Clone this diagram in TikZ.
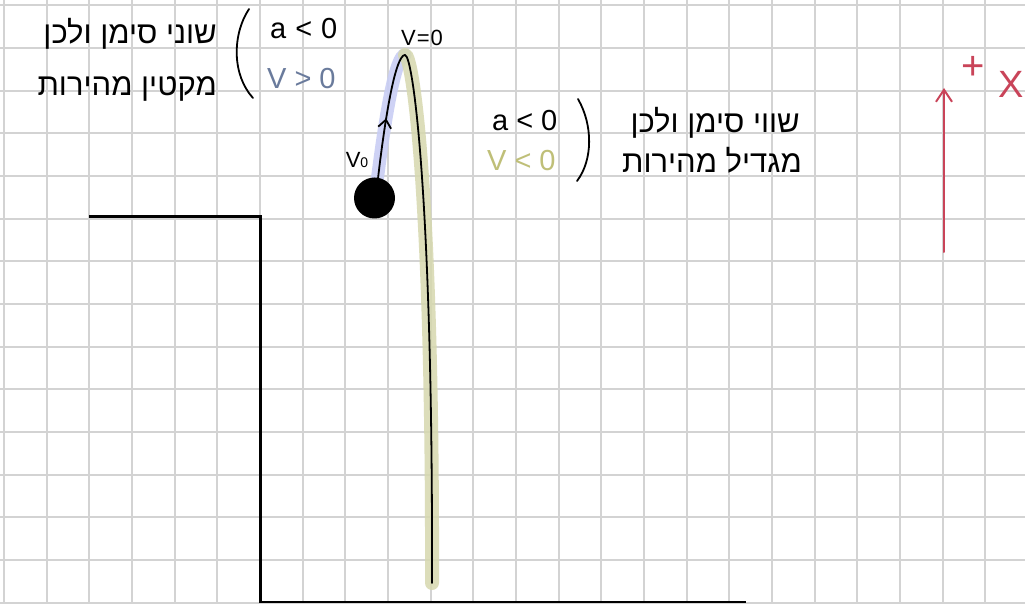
\documentclass[tikz,border=0pt]{standalone}
\usepackage{fontspec}
\setmainfont{Liberation Sans}
\newfontfamily\hebfont[Script=Hebrew]{Liberation Sans}
\TeXXeTstate=1
\usetikzlibrary{arrows.meta,decorations.markings}
\definecolor{gridc}{HTML}{D3D3D3}
\definecolor{redc}{HTML}{C94459}
\definecolor{slatec}{HTML}{6A7B9C}
\definecolor{olivec}{HTML}{BFBF78}
\definecolor{hlblue}{HTML}{C9CEF4}
\definecolor{hlolive}{HTML}{D6D8AE}
\tikzset{
  gridline/.style={draw=gridc, line width=2pt},
  stepline/.style={draw=black, line width=2.4pt},
  pathline/.style={draw=black, line width=1.8pt, line cap=round},
  hebtext/.style={font=\hebfont\fontsize{31}{33}\selectfont, inner sep=0pt},
  mathtext/.style={font=\fontsize{29}{31}\selectfont, inner sep=0pt},
  paren/.style={draw=black, line width=1.8pt, line cap=round},
  redline/.style={draw=redc, line width=2pt, line cap=round},
}
\begin{document}
\begin{tikzpicture}[x=1pt,y=-1pt]
\useasboundingbox (0,0) rectangle (1025,604);
\fill[white] (0,0) rectangle (1025,604);
% grid
\foreach \i in {0,...,23} \draw[gridline] ({4+42.67*\i},0) -- ({4+42.67*\i},604);
\foreach \j in {0,...,14} \draw[gridline] (0,{5.3+42.67*\j}) -- (1025,{5.3+42.67*\j});
% cliff and ground
\coordinate (c1) at (89,216.5);
\coordinate (c2) at (260.5,216.5);
\coordinate (c3) at (260.5,602);
\coordinate (c4) at (746,602);
\draw[stepline] (c1) -- (c2) -- (c3) -- (c4);
% trajectory
\coordinate (start) at (377,182);
\coordinate (apex) at (405,55);
\coordinate (stop) at (432,583);
\draw[hlblue, opacity=0.9, line width=13pt, line cap=round] (start) .. controls (386,110) and (396,55) .. (apex);
\draw[hlolive, opacity=0.85, line width=14pt, line cap=round] (apex) .. controls (413,55) and (433,200) .. (stop);
\node[circle, fill=black, minimum size=41pt, inner sep=0pt] (ball) at (374.5,198) {};
\draw[pathline, postaction={decorate}, decoration={markings, mark=at position 0.47 with {\arrow{Straight Barb[length=8pt,width=13pt,line width=1.8pt]}}}] (ball.80) .. controls (386,110) and (396,55) .. (apex);
\draw[pathline] (apex) .. controls (413,55) and (433,200) .. (stop);
\node[font=\fontsize{22}{24}\selectfont, inner sep=0pt] (v0) at (357,160) {V{\fontsize{14}{14}\selectfont 0}};
\node[font=\fontsize{22}{24}\selectfont, inner sep=0pt] (vtop) at (422,38) {V\hspace{1pt}=\hspace{1pt}0};
% left annotation
\node[hebtext, anchor=base east] (l1) at (217,44) {\beginR שוני סימן ולכן\endR};
\node[hebtext, anchor=base east] (l2) at (217,96) {\beginR מקטין מהירות\endR};
\draw[paren] (249,9) .. controls (232,35) and (232,75) .. (253,98);
\node[mathtext, anchor=base west] (la) at (270,39) {a\hspace{9pt}<\hspace{9pt}0};
\node[mathtext, anchor=base west, text=slatec] (lv) at (267,89) {V\hspace{8pt}>\hspace{8pt}0};
% right annotation
\node[mathtext, anchor=base west] (ra) at (492,131) {a\hspace{8pt}<\hspace{8pt}0};
\draw[paren] (578,99) .. controls (593,125) and (593,160) .. (577,181);
\node[mathtext, anchor=base west, text=olivec] (rv) at (487,171) {V\hspace{8pt}<\hspace{8pt}0};
\node[hebtext, anchor=base east] (r1) at (800,133) {\beginR שווי סימן ולכן\endR};
\node[hebtext, anchor=base east] (r2) at (802,173) {\beginR מגדיל מהירות\endR};
% axis
\coordinate (ax0) at (944,252);
\coordinate (ax1) at (944,88);
\draw[redline, -{Straight Barb[length=12pt,width=16pt,line width=2pt]}] (ax0) -- (ax1);
\node[text=redc, font=\fontsize{40}{40}\selectfont, inner sep=0pt] (plus) at (973,68) {+};
\node[text=redc, font=\fontsize{38}{38}\selectfont, inner sep=0pt] (xlab) at (1011,84) {X};
\end{tikzpicture}
\end{document}
